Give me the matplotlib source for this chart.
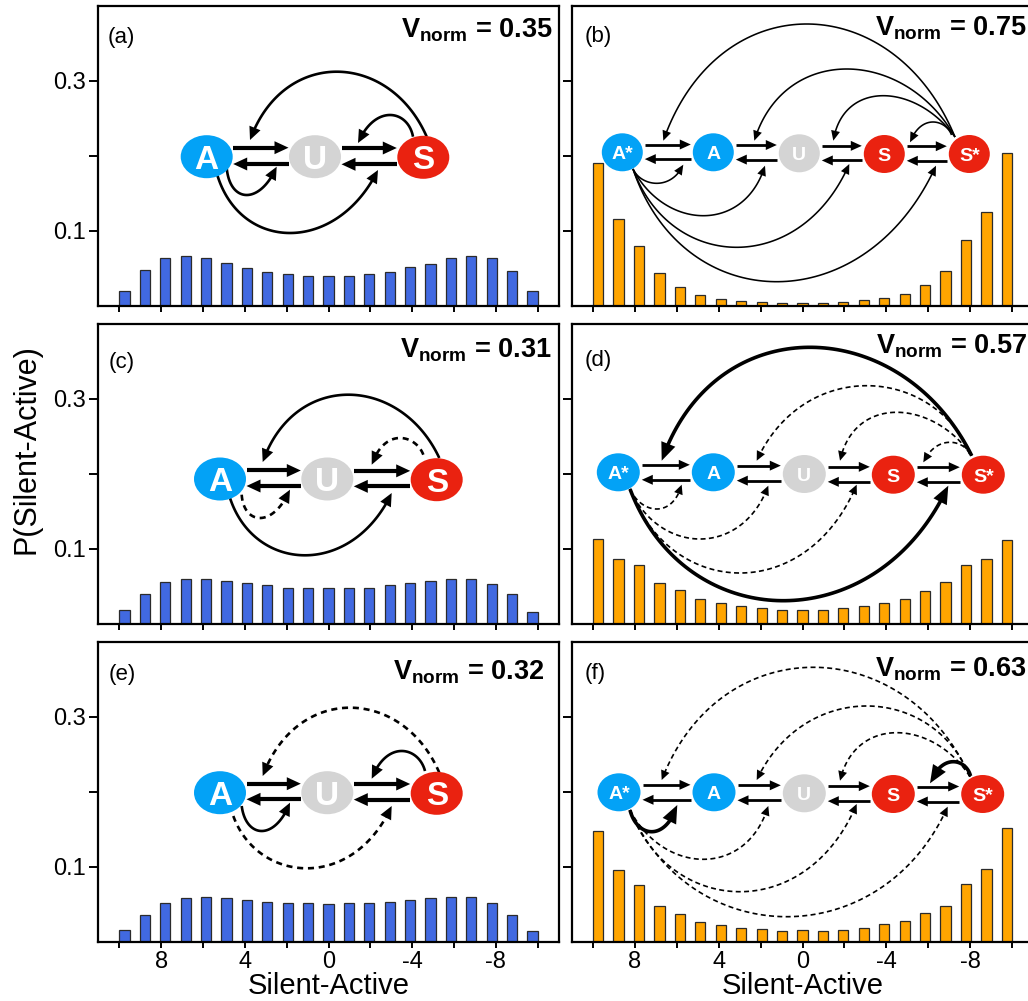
import numpy as np
import matplotlib
matplotlib.use('Agg')
import matplotlib.pyplot as plt
from matplotlib.transforms import Affine2D
from matplotlib.patches import Ellipse, Polygon

plt.rcParams['font.family'] = ['Liberation Sans', 'DejaVu Sans']
plt.rcParams['mathtext.fontset'] = 'custom'
plt.rcParams['mathtext.rm'] = 'Liberation Sans'
plt.rcParams['mathtext.bf'] = 'Liberation Sans:bold'
plt.rcParams['mathtext.it'] = 'Liberation Sans:italic'

# ---------------- data ----------------
states = list(range(10, -11, -1))
p_a = [0.020, 0.047, 0.063, 0.066, 0.063, 0.057, 0.050, 0.045, 0.042, 0.040, 0.039,
       0.040, 0.042, 0.045, 0.051, 0.056, 0.063, 0.066, 0.063, 0.046, 0.020]
p_b = [0.190, 0.115, 0.080, 0.043, 0.025, 0.014, 0.009, 0.006, 0.005, 0.004, 0.004,
       0.004, 0.005, 0.007, 0.010, 0.016, 0.027, 0.046, 0.087, 0.125, 0.204]
p_c = [0.018, 0.040, 0.055, 0.060, 0.060, 0.057, 0.054, 0.051, 0.048, 0.047, 0.047,
       0.047, 0.048, 0.051, 0.054, 0.057, 0.059, 0.059, 0.053, 0.039, 0.016]
p_d = [0.113, 0.086, 0.078, 0.054, 0.045, 0.033, 0.028, 0.023, 0.021, 0.018, 0.018,
       0.018, 0.021, 0.023, 0.027, 0.033, 0.044, 0.055, 0.078, 0.086, 0.111]
p_e = [0.015, 0.036, 0.051, 0.058, 0.059, 0.058, 0.056, 0.053, 0.051, 0.051, 0.050,
       0.051, 0.052, 0.053, 0.055, 0.058, 0.060, 0.059, 0.052, 0.036, 0.014]
p_f = [0.148, 0.095, 0.075, 0.047, 0.037, 0.026, 0.022, 0.018, 0.017, 0.014, 0.015,
       0.014, 0.016, 0.018, 0.023, 0.027, 0.038, 0.048, 0.077, 0.097, 0.151]
vnorm = ['0.35', '0.75', '0.31', '0.57', '0.32', '0.63']
panel_labels = ['(a)', '(b)', '(c)', '(d)', '(e)', '(f)']
xtick_values = [10, 8, 6, 4, 2, 0, -2, -4, -6, -8, -10]
xtick_labels = ['', '8', '', '4', '', '0', '', '-4', '', '-8', '']
ytick_values = [0.1, 0.2, 0.3]
ytick_labels = ['0.1', '', '0.3']
xlabel = 'Silent-Active'
ylabel = 'P(Silent-Active)'

BLUE_BAR = '#4169E1'
ORANGE_BAR = '#FFA500'
C_A = '#03A2F6'
C_U = '#D4D4D4'
C_S = '#EA2210'

# ---------------- layout ----------------
FW, FH = 1028, 1001
fig = plt.figure(figsize=(FW / 100, FH / 100), dpi=100)
col_x = [98, 571.5]
col_w = [461, 462]
row_top = [6, 324, 642]
row_h = 299.5


def px_T(ax, W, H):
    return Affine2D().scale(1.0 / W, -1.0 / H).translate(0, 1) + ax.transAxes


def bezier(p0, m, p3, c=0.3, n=90):
    p0, m, p3 = np.asarray(p0, float), np.asarray(m, float), np.asarray(p3, float)
    sy = (8 * m[1] - p0[1] - p3[1]) / 3
    dy = p0[1] - p3[1]
    p1y, p2y = (sy - dy) / 2, (sy + dy) / 2
    sx = (8 * m[0] - p0[0] - p3[0]) / 3
    L = p3[0] - p0[0]
    p1x, p2x = sx / 2 - c * L, sx / 2 + c * L
    p1, p2 = np.array([p1x, p1y]), np.array([p2x, p2y])
    t = np.linspace(0, 1, n)[:, None]
    return ((1 - t) ** 3) * p0 + 3 * ((1 - t) ** 2) * t * p1 + 3 * (1 - t) * t ** 2 * p2 + t ** 3 * p3


def arrow(ax, T, pts, lw, ls, hl, hw, z=6):
    pts = np.asarray(pts, float)
    seg = np.diff(pts, axis=0)
    d = np.hypot(seg[:, 0], seg[:, 1])
    cum = np.concatenate([[0], np.cumsum(d)])
    total = cum[-1]
    tip = pts[-1]
    sb = total - hl
    bpt = np.array([np.interp(sb, cum, pts[:, 0]), np.interp(sb, cum, pts[:, 1])])
    u = (tip - bpt) / np.linalg.norm(tip - bpt)
    nrm = np.array([-u[1], u[0]])
    base = tip - hl * u
    head = [tip, base + hw * nrm, base - hw * nrm]
    se = total - hl * 0.7
    keep = cum < se
    shaft = np.vstack([pts[keep], [np.interp(se, cum, pts[:, 0]), np.interp(se, cum, pts[:, 1])]])
    ax.plot(shaft[:, 0], shaft[:, 1], transform=T, color='k', lw=lw, ls=ls,
            solid_capstyle='butt', dash_capstyle='butt', clip_on=False, zorder=z)
    ax.add_patch(Polygon(head, closed=True, transform=T, facecolor='k', edgecolor='none',
                         clip_on=False, zorder=z))


def draw_diagram(ax, T, spec):
    nodes = spec['nodes']
    w, h = spec['size']
    fs = spec['fs']
    for lab, cx, cy, col in nodes:
        ax.add_patch(Ellipse((cx, cy), w, h, transform=T, facecolor=col, edgecolor='none',
                             zorder=8, clip_on=False))
        ax.text(cx, cy + 0.716 * fs * 100 / 72 / 2, lab, transform=T, ha='center', va='baseline',
                color='white', fontsize=fs, fontweight='bold', zorder=9)
    # horizontal double arrows between neighbours
    hlw, hhl, hhw = spec['hor']
    g = spec['gap']
    for i in range(len(nodes) - 1):
        _, x1, y1, _ = nodes[i]
        _, x2, y2, _ = nodes[i + 1]
        ym = (y1 + y2) / 2
        le, re = x1 + w / 2, x2 - w / 2
        yt, yb = ym + spec['dy'][0], ym + spec['dy'][1]
        arrow(ax, T, [(le + g, yt), (re - g, yt)], hlw, '-', hhl, hhw)
        arrow(ax, T, [(re - g, yb), (le + g, yb)], hlw, '-', hhl, hhw)
    for p0, m, p3, st in spec['curves']:
        lw, ls, hl, hw = spec['styles'][st]
        arrow(ax, T, bezier(p0, m, p3), lw, ls, hl, hw)


st3 = {'s': (1.9, '-', 13, 6.0), 'd': (1.9, (0, (2.3, 1.8)), 13, 6.0)}
st5b = {'s': (1.15, '-', 10, 4.5)}
st5 = {'d': (1.2, (0, (3, 2)), 9.5, 4.5), 't': (2.6, '-', 18, 7.5), 's': (1.15, '-', 10, 4.5)}

specs = [
    # (a)
    dict(nodes=[('A', 108.7, 150.7, C_A), ('U', 217.0, 150.7, C_U), ('S', 325.3, 151.3, C_S)],
         size=(52, 43), fs=24, hor=(3.0, 14, 6.5), gap=0.5, dy=(-9, 7.3), styles=st3,
         curves=[((328.7, 130.7), (238.7, 65.7), (152, 134), 's'),
                 ((315, 130.7), (292, 109), (260, 137), 's'),
                 ((128.7, 162), (148.7, 189), (178.7, 160.7), 's'),
                 ((118.7, 167), (192, 227), (280, 164), 's')]),
    # (b)
    dict(nodes=[('A*', 50.8, 146.3, C_A), ('A', 141.8, 146.3, C_A), ('U', 227.8, 147.3, C_U),
                ('S', 312.8, 148.0, C_S), ('S*', 397.8, 148.0, C_S)],
         size=(41, 38), fs=14, hor=(2.0, 11, 5), gap=2, dy=(-7.8, 6.8), styles=st5b,
         curves=[((383.5, 131), (235.2, 18), (91.8, 134.7), 's'),
                 ((383.5, 131), (275.2, 63), (182.8, 134.7), 's'),
                 ((383.5, 131), (311.8, 89.7), (261.8, 134.7), 's'),
                 ((380, 129), (361.5, 116), (338.5, 136.3), 's'),
                 ((61.5, 163), (85.2, 177.3), (111.8, 158.7), 's'),
                 ((61.5, 163), (131.8, 209.7), (193.5, 159.7), 's'),
                 ((61.5, 163), (165.2, 241.3), (277.8, 158), 's'),
                 ((61.5, 163), (205.2, 275.7), (364.5, 159.7), 's')]),
    # (c)
    dict(nodes=[('A', 122.0, 155.0, C_A), ('U', 229.3, 155.0, C_U), ('S', 338.7, 155.7, C_S)],
         size=(52, 43), fs=24, hor=(3.0, 14, 6.5), gap=0.5, dy=(-8.5, 7.0), styles=st3,
         curves=[((341.3, 134), (250.3, 70.7), (164.7, 138), 's'),
                 ((325.3, 130.7), (302, 114), (273.7, 140.7), 'd'),
                 ((143.7, 170.7), (162, 194), (192, 165.7), 'd'),
                 ((132, 174), (207, 231.3), (293.7, 169), 's')]),
    # (d)
    dict(nodes=[('A*', 46.8, 148.3, C_A), ('A', 141.8, 148.3, C_A), ('U', 232.8, 150.0, C_U),
                ('S', 321.8, 150.7, C_S), ('S*', 411.8, 150.7, C_S)],
         size=(43, 38), fs=14, hor=(2.0, 11, 5), gap=2, dy=(-7.5, 7.5), styles=st5,
         curves=[((400.2, 131.7), (238.5, 23.3), (90.2, 136.7), 't'),
                 ((400.2, 131.7), (295.2, 61.7), (185.2, 136.7), 'd'),
                 ((400.2, 131.7), (325.2, 88.3), (268.5, 136.7), 'd'),
                 ((398, 130), (378.5, 118.3), (351.8, 138.3), 'd'),
                 ((58.5, 165), (85.2, 185), (110.2, 160.7), 'd'),
                 ((58.5, 165), (128.5, 215), (196.8, 161.7), 'd'),
                 ((58.5, 165), (168.5, 249), (285.2, 160.7), 'd'),
                 ((58.5, 165), (211.8, 276.7), (376.8, 161.7), 't')]),
    # (e)
    dict(nodes=[('A', 122.0, 150.7, C_A), ('U', 229.3, 150.7, C_U), ('S', 338.7, 151.3, C_S)],
         size=(52, 43), fs=24, hor=(3.0, 14, 6.5), gap=0.5, dy=(-9, 6.6), styles=st3,
         curves=[((341.3, 130.7), (252, 65.7), (164.7, 134), 'd'),
                 ((327, 129), (303.7, 109), (273.7, 136.7), 's'),
                 ((143.7, 164), (163.7, 189), (192, 160.7), 's'),
                 ((135.3, 174), (208.7, 226.3), (293.7, 164), 'd')]),
    # (f)
    dict(nodes=[('A*', 47.5, 150.3, C_A), ('A', 142.5, 150.3, C_A), ('U', 232.8, 151.3, C_U),
                ('S', 321.8, 152.0, C_S), ('S*', 411.2, 152.0, C_S)],
         size=(43, 38), fs=14, hor=(2.0, 11, 5), gap=2, dy=(-7.5, 7.5), styles=st5,
         curves=[((398.5, 134.7), (241.8, 25.3), (90.2, 138), 'd'),
                 ((398.5, 134.7), (295.2, 64), (185.2, 138), 'd'),
                 ((398.5, 134.7), (325.2, 90.7), (268.5, 138.7), 'd'),
                 ((399, 134), (381.8, 119.7), (358.5, 141.3), 't'),
                 ((58.5, 168), (80.2, 189.7), (105.8, 163), 't'),
                 ((58.5, 168), (131.8, 217.3), (196.8, 164), 'd'),
                 ((58.5, 168), (168.5, 249.7), (285.2, 162), 'd'),
                 ((58.5, 168), (215.2, 274.7), (376.2, 164.7), 'd')]),
]

series = [p_a, p_b, p_c, p_d, p_e, p_f]
bar_colors = [BLUE_BAR, ORANGE_BAR] * 3
vnorm_pos = [(6, 31.3), (6.8, 29), (7, 34), (6.8, 30), (15, 37.3), (6.8, 34.7)]
label_pos = [(10, 37.5), (13.5, 36.3), (10.3, 44), (13.5, 41.7), (10.3, 38.3), (13.5, 37.3)]
tick_scale = 1.025

for k in range(6):
    r, c = divmod(k, 2)
    W = col_w[c]
    x0 = col_x[c] / FW
    y0 = 1 - (row_top[r] + row_h) / FH
    ax = fig.add_axes([x0, y0, W / FW, row_h / FH])
    ax.bar(states, series[k], width=0.5, color=bar_colors[k], edgecolor='#2b2b2b',
           linewidth=0.9, zorder=2)
    ax.set_xlim(11.3, -11.3)
    ax.set_ylim(0, 0.4)
    ax.set_xticks([v * tick_scale for v in xtick_values])
    ax.set_yticks(ytick_values)
    if r == 2:
        ax.set_xticklabels(xtick_labels)
        ax.set_xlabel(xlabel, fontsize=21, labelpad=-1)
    else:
        ax.set_xticklabels([''] * len(xtick_values))
    if c == 0:
        ax.set_yticklabels(ytick_labels)
    else:
        ax.set_yticklabels([''] * len(ytick_values))
    ax.tick_params(axis='x', direction='out', length=4, width=1.4, labelsize=17, pad=3)
    ax.tick_params(axis='y', direction='out', length=6.5, width=1.4, labelsize=17, pad=2)
    for s in ax.spines.values():
        s.set_linewidth(1.6)
    T = px_T(ax, W, row_h)
    draw_diagram(ax, T, specs[k])
    vx, vy = vnorm_pos[k]
    ax.text(W - vx, vy, r'$\mathbf{V_{norm}}$' + ' = ' + vnorm[k], transform=T,
            ha='right', va='baseline', fontsize=19.5, fontweight='bold', zorder=10)
    lx, ly = label_pos[k]
    ax.text(lx, ly, panel_labels[k], transform=T, ha='left', va='baseline', fontsize=16, zorder=10)

fig.text(27 / FW, 1 - 449 / FH, ylabel, rotation=90, ha='center', va='center', fontsize=22)

fig.savefig('out.png', dpi=100)
